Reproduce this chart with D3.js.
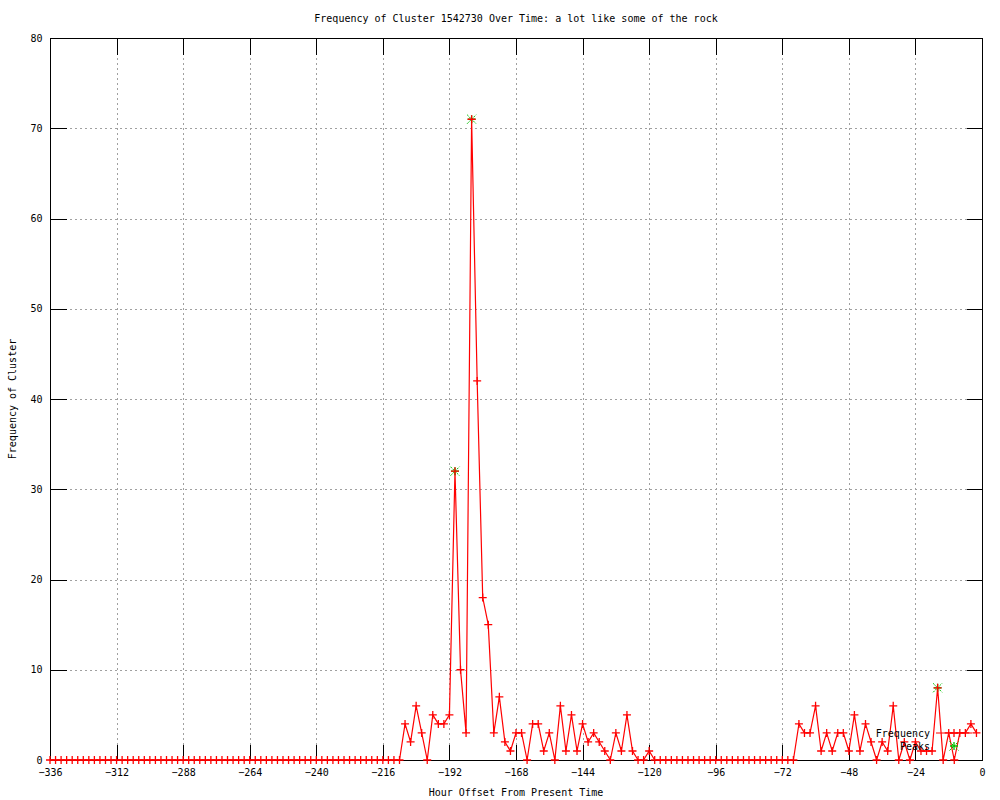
<!DOCTYPE html>
<html>
<head>
<meta charset="utf-8">
<script src="https://cdn.jsdelivr.net/npm/d3@7"></script>
<style>
  body { margin: 0; background: #fff; }
  svg { display: block; }
  text { font-family: "DejaVu Sans Mono", monospace; font-size: 10px; fill: #000; }
</style>
</head>
<body>
<svg id="chart"></svg>
<script>
// hour offsets, one sample every 2 hours from -336 to -2
const hours = d3.range(-336, 0, 2);

// frequency per sample, one row per 24 hours
const freq = [
    0, 0, 0, 0, 0, 0, 0, 0, 0, 0, 0, 0,      // -336 .. -314
    0, 0, 0, 0, 0, 0, 0, 0, 0, 0, 0, 0,      // -312 .. -290
    0, 0, 0, 0, 0, 0, 0, 0, 0, 0, 0, 0,      // -288 .. -266
    0, 0, 0, 0, 0, 0, 0, 0, 0, 0, 0, 0,      // -264 .. -242
    0, 0, 0, 0, 0, 0, 0, 0, 0, 0, 0, 0,      // -240 .. -218
    0, 0, 0, 0, 4, 2, 6, 3, 0, 5, 4, 4,      // -216 .. -194
    5, 32, 10, 3, 71, 42, 18, 15, 3, 7, 2, 1, // -192 .. -170
    3, 3, 0, 4, 4, 1, 3, 0, 6, 1, 5, 1,      // -168 .. -146
    4, 2, 3, 2, 1, 0, 3, 1, 5, 1, 0, 0,      // -144 .. -122
    1, 0, 0, 0, 0, 0, 0, 0, 0, 0, 0, 0,      // -120 .. -98
    0, 0, 0, 0, 0, 0, 0, 0, 0, 0, 0, 0,      // -96 .. -74
    0, 0, 0, 4, 3, 3, 6, 1, 3, 1, 3, 3,      // -72 .. -50
    1, 5, 1, 4, 2, 0, 2, 1, 6, 0, 2, 0,      // -48 .. -26
    2, 1, 1, 1, 8, 0, 3, 0, 3, 3, 4, 3       // -24 .. -2
];

const peakHours = [-190, -184, -16];
const peakValues = [32, 71, 8];

const xTicks = d3.range(-336, 1, 24);
const yTicks = d3.range(0, 81, 10);

const title = "Frequency of Cluster 1542730 Over Time: a lot like some of the rock";
const xTitle = "Hour Offset From Present Time";
const yTitle = "Frequency of Cluster";
const seriesNames = ["Frequency", "Peaks"];

const w = 1000, h = 800;
const pL = 50, pR = 982, pT = 38, pB = 760;
const red = "#ff0000", green = "#00c000", grid = "#a0a0a0";

const svg = d3.select("#chart").attr("width", w).attr("height", h);

const x = d3.scaleLinear().domain([-336, 0]).range([pL, pR]);
const y = d3.scaleLinear().domain([0, 80]).range([pB, pT]);

// grid
const g = svg.append("g").attr("shape-rendering", "crispEdges");
g.selectAll(".gx").data(xTicks.filter(t => t > -336 && t < 0)).enter()
    .append("line")
    .attr("x1", d => Math.round(x(d)) + 0.5).attr("x2", d => Math.round(x(d)) + 0.5)
    .attr("y1", pT).attr("y2", pB)
    .attr("stroke", grid).attr("stroke-dasharray", "2,3");
g.selectAll(".gy").data(yTicks.filter(t => t > 0 && t < 80)).enter()
    .append("line")
    .attr("y1", d => Math.round(y(d)) + 0.5).attr("y2", d => Math.round(y(d)) + 0.5)
    .attr("x1", pL).attr("x2", pR)
    .attr("stroke", grid).attr("stroke-dasharray", "2,3");

// axes (ticks drawn inwards and mirrored)
const tl = 16;
const xAxisB = d3.axisBottom(x).tickValues(xTicks).tickSizeInner(-tl).tickSizeOuter(0).tickPadding(8);
const xAxisT = d3.axisTop(x).tickValues(xTicks).tickSizeInner(-tl).tickSizeOuter(0).tickFormat("");
const yAxisL = d3.axisLeft(y).tickValues(yTicks).tickSizeInner(-tl).tickSizeOuter(0).tickPadding(8);
const yAxisR = d3.axisRight(y).tickValues(yTicks).tickSizeInner(-tl).tickSizeOuter(0).tickFormat("");

function styleAxis(sel) {
    sel.attr("shape-rendering", "crispEdges");
    sel.select(".domain").remove();
    sel.selectAll("line").attr("stroke", "#000");
    sel.selectAll("text").attr("fill", "#000").style("font-size", "10px")
        .style("font-family", "DejaVu Sans Mono, monospace");
}
svg.append("g").attr("transform", `translate(0,${pB + 0.5})`).call(xAxisB).call(styleAxis);
svg.append("g").attr("transform", `translate(0,${pT + 0.5})`).call(xAxisT).call(styleAxis);
svg.append("g").attr("transform", `translate(${pL + 0.5},0)`).call(yAxisL).call(styleAxis);
svg.append("g").attr("transform", `translate(${pR + 0.5},0)`).call(yAxisR).call(styleAxis);

svg.append("rect")
    .attr("x", pL + 0.5).attr("y", pT + 0.5)
    .attr("width", pR - pL).attr("height", pB - pT)
    .attr("fill", "none").attr("stroke", "#000")
    .attr("shape-rendering", "crispEdges");

// data line
const data = hours.map((hr, i) => ({ h: hr, v: freq[i] }));
const line = d3.line().x(d => x(d.h)).y(d => y(d.v));
svg.append("path")
    .datum(data)
    .attr("d", line)
    .attr("fill", "none")
    .attr("stroke", red)
    .attr("stroke-width", 1.2);

function plus(sel, cx, cy, s, color) {
    sel.append("path")
        .attr("d", `M${cx - s},${cy}H${cx + s}M${cx},${cy - s}V${cy + s}`)
        .attr("stroke", color).attr("stroke-width", 1.3).attr("fill", "none");
}
function cross(sel, cx, cy, s, color) {
    sel.append("path")
        .attr("d", `M${cx - s},${cy - s}L${cx + s},${cy + s}M${cx - s},${cy + s}L${cx + s},${cy - s}`)
        .attr("stroke", color).attr("stroke-width", 1).attr("stroke-dasharray", "2,1").attr("fill", "none");
}

// peaks: green star
const pk = svg.append("g");
peakHours.forEach((hr, i) => {
    cross(pk, x(hr), y(peakValues[i]), 4.5, green);
    plus(pk, x(hr), y(peakValues[i]), 4, green);
});

const mk = svg.append("g");
data.forEach(d => plus(mk, x(d.h), y(d.v), 4, red));

// key
const keyX = 930, keyY1 = 733, keyY2 = 746;
svg.append("text").attr("x", keyX).attr("y", keyY1).attr("dy", "0.35em")
    .attr("text-anchor", "end").text(seriesNames[0]);
svg.append("text").attr("x", keyX).attr("y", keyY2).attr("dy", "0.35em")
    .attr("text-anchor", "end").text(seriesNames[1]);
svg.append("line").attr("x1", 936).attr("x2", 972).attr("y1", keyY1).attr("y2", keyY1)
    .attr("stroke", red).attr("stroke-width", 1.2);
plus(svg, 954, keyY1, 4, red);
cross(svg, 954, keyY2, 4.5, green);
plus(svg, 954, keyY2, 4, green);

// titles
svg.append("text").attr("x", (pL + pR) / 2).attr("y", 22)
    .attr("text-anchor", "middle").text(title);
svg.append("text").attr("x", (pL + pR) / 2).attr("y", 796)
    .attr("text-anchor", "middle").text(xTitle);
svg.append("text")
    .attr("transform", `translate(16,${(pT + pB) / 2}) rotate(-90)`)
    .attr("text-anchor", "middle").text(yTitle);
</script>
</body>
</html>
